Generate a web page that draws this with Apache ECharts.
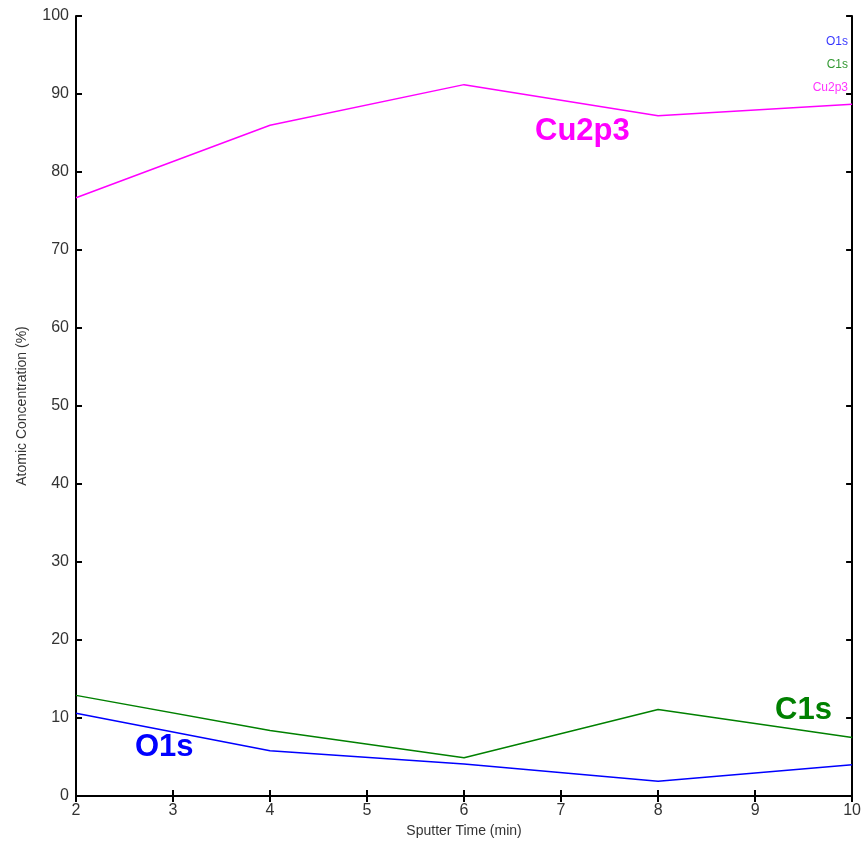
<!DOCTYPE html>
<html><head><meta charset="utf-8">
<script src="https://cdn.jsdelivr.net/npm/echarts@6/dist/echarts.min.js"></script>
<style>html,body{margin:0;padding:0;background:#fff}#c{width:864px;height:843px}</style>
</head><body><div id="c"></div>
<script>
const sputterTime = [2, 4, 6, 8, 10];
const o1s = [10.6, 5.8, 4.1, 1.9, 4.0];
const c1s = [12.9, 8.4, 4.9, 11.1, 7.5];
const cu2p3 = [76.7, 86.0, 91.2, 87.2, 88.7];
const seriesNames = ['O1s', 'C1s', 'Cu2p3'];
const colors = ['#0000ff', '#008000', '#ff00ff'];
const valuesList = [o1s, c1s, cu2p3];

const chart = echarts.init(document.getElementById('c'));
const font = 'Liberation Sans, Arial, sans-serif';
const axisCommon = {
  axisLine: {show: true, lineStyle: {color: '#000', width: 2}},
  axisTick: {show: true, inside: true, length: 6, lineStyle: {color: '#000', width: 2}},
  splitLine: {show: false}
};
chart.setOption({
  animation: false,
  grid: {left: 76, right: 11, top: 16, bottom: 47},
  legend: {
    orient: 'vertical', right: 6, top: 31, itemGap: 11,
    itemWidth: 0, itemHeight: 0, icon: 'none', align: 'right',
    data: seriesNames.map((n, i) => ({name: n, textStyle: {color: colors[i], fontSize: 12, fontFamily: font, opacity: 0.8}}))
  },
  xAxis: [
    Object.assign({type: 'value', min: 2, max: 10, interval: 1, position: 'bottom',
      name: 'Sputter Time (min)', nameLocation: 'middle', nameGap: 28,
      nameTextStyle: {fontSize: 14, fontFamily: font, color: '#333'},
      axisLabel: {fontSize: 16, fontFamily: font, color: '#333', margin: 7}}, axisCommon),
    Object.assign({type: 'value', min: 2, max: 10, interval: 1, position: 'top',
      axisLabel: {show: false}}, axisCommon)
  ],
  yAxis: [
    Object.assign({type: 'value', min: 0, max: 100, interval: 10, position: 'left',
      name: 'Atomic Concentration (%)', nameLocation: 'middle', nameGap: 47,
      nameTextStyle: {fontSize: 14, fontFamily: font, color: '#333'},
      axisLabel: {fontSize: 16, fontFamily: font, color: '#333', margin: 7}}, axisCommon),
    Object.assign({type: 'value', min: 0, max: 100, interval: 10, position: 'right',
      axisLabel: {show: false}}, axisCommon)
  ],
  series: seriesNames.map((n, i) => ({
    name: n, type: 'line', xAxisIndex: 0, yAxisIndex: 0,
    data: sputterTime.map((t, j) => [t, valuesList[i][j]]),
    showSymbol: false, symbol: 'none',
    lineStyle: {color: colors[i], width: 1.5},
    itemStyle: {color: colors[i]}
  })),
  graphic: [
    {type: 'text', left: 535, top: 116, style: {text: 'Cu2p3', fill: '#ff00ff', font: 'bold 31px ' + font}},
    {type: 'text', left: 775, top: 695, style: {text: 'C1s', fill: '#008000', font: 'bold 31px ' + font}},
    {type: 'text', left: 135, top: 732, style: {text: 'O1s', fill: '#0000ff', font: 'bold 31px ' + font}}
  ]
});
</script></body></html>
